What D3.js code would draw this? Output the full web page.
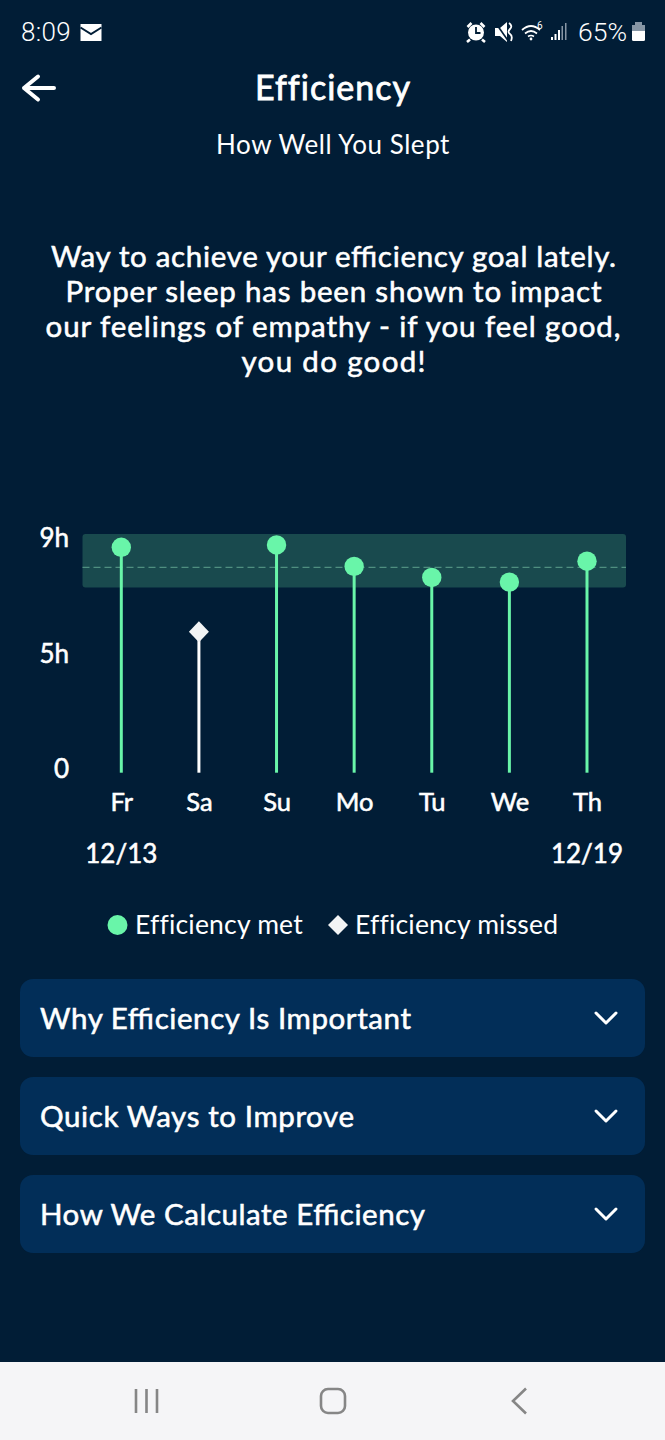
<!DOCTYPE html>
<html>
<head>
<meta charset="utf-8">
<script src="https://cdn.jsdelivr.net/npm/d3@7"></script>
<style>
html,body{margin:0;padding:0;background:#011d36;}
svg{display:block;}
text{font-family:Lato,"Open Sans",sans-serif;fill:#fff;}
.status{font-family:Roboto,sans-serif;}
/* no medium Lato installed, thicken the regular one a bit */
.medium{stroke:#fff;stroke-width:0.55px;}
</style>
</head>
<body>
<div id="chart"></div>
<script>
// chart data
var days = ["Fr","Sa","Su","Mo","Tu","We","Th"];
var hours = [8.68,5.77,8.76,8.02,7.64,7.48,8.2];
var goalMet = [true,false,true,true,true,true,true];
var yTicks = [0,5,9];
var yTickLabels = ["0","5h","9h"];
var goalBand = [7.29,9.14];
var goalLine = [7.99];
var dateLabels = ["12/13","12/19"];
var legendLabels = ["Efficiency met","Efficiency missed"];

var message = ["Way to achieve your efficiency goal lately.","Proper sleep has been shown to impact","our feelings of empathy - if you feel good,","you do good!"];
var messageWidths = [565,536,575,184];
var sections = ["Why Efficiency Is Important","Quick Ways to Improve","How We Calculate Efficiency"];
var sectionWidths = [371,314,385];

var W = 665, H = 1440;
var green = "#69f5a9", bg = "#011d36", card = "#022e58", white = "#fff", grey = "#8796a5";

var svg = d3.select("#chart").append("svg").attr("width",W).attr("height",H);
svg.append("rect").attr("width",W).attr("height",H).attr("fill",bg);

// ---- status bar
var bar = svg.append("g");
bar.append("text").attr("class","status").attr("x",21).attr("y",41).attr("font-size",26).attr("font-weight",300).attr("letter-spacing",0.3).text("8:09");
bar.append("path").attr("d","M80.500 24h21v17h-21z").attr("fill",white);
bar.append("path").attr("d","M80.500 27.500l10.500 6.500 10.500-6.500").attr("fill","none").attr("stroke",bg).attr("stroke-width",2);
// alarm
bar.append("circle").attr("cx",476).attr("cy",32.500).attr("r",8).attr("fill",white);
bar.append("path").attr("d","M476 27v6h4.500").attr("fill","none").attr("stroke",bg).attr("stroke-width",1.8);
bar.append("path").attr("d","M467.500 27l4-4M484.500 27l-4-4M470 39.500l-3 2.500M482 39.500l3 2.500").attr("stroke",white).attr("stroke-width",2.6);
// mute
bar.append("path").attr("d","M495 28h5l7-6v20l-7-6h-5z").attr("fill",white);
bar.append("path").attr("d","M495 22l14 20").attr("stroke",bg).attr("stroke-width",1.6);
bar.append("path").attr("d","M509 23q4 3 1 6t0 5 1 7").attr("fill","none").attr("stroke",white).attr("stroke-width",1.8);
// wifi
bar.append("path").attr("d","M522 30q9-8 18 0M525 33.500q6-5 12 0M528 36.500q3-2 6 0").attr("fill","none").attr("stroke",white).attr("stroke-width",1.7);
bar.append("circle").attr("cx",531).attr("cy",39).attr("r",1.4).attr("fill",white);
bar.append("text").attr("class","status").attr("x",537).attr("y",29).attr("font-size",10).text("6");
// signal
[[551,37,2,white],[554.500,34,2,white],[558,30,2,white],[561.500,26,1.5,grey],[565,23,1.5,grey]].forEach(function(b){
	bar.append("rect").attr("x",b[0]).attr("y",b[1]).attr("width",b[2]).attr("height",40-b[1]).attr("fill",b[3]);
});
bar.append("text").attr("class","status").attr("x",578).attr("y",41).attr("font-size",26.500).attr("font-weight",300).text("65%");
bar.append("rect").attr("x",632).attr("y",25).attr("width",13).attr("height",16).attr("rx",1.5).attr("fill",white);
bar.append("rect").attr("x",632).attr("y",25).attr("width",13).attr("height",6).attr("fill",grey);
bar.append("rect").attr("x",635).attr("y",22).attr("width",7).attr("height",3).attr("fill",grey);

// ---- header
svg.append("path").attr("d","M54 88H24M38 76.500L24 88l14 11.500").attr("fill","none").attr("stroke",white).attr("stroke-width",4).attr("stroke-linecap","round").attr("stroke-linejoin","round");
svg.append("text").attr("class","medium").attr("x",333).attr("y",100).attr("text-anchor","middle").attr("font-size",34).attr("letter-spacing",1).style("stroke-width","0.8px").text("Efficiency");
svg.append("text").attr("x",333).attr("y",154).attr("text-anchor","middle").attr("font-size",26).attr("letter-spacing",0.55).text("How Well You Slept");

svg.selectAll(".msg").data(message).enter().append("text").attr("class","msg medium")
	.attr("x",function(d,i){ return 333-messageWidths[i]/2+(i==2?0:0.500); }).attr("y",function(d,i){ return 267+i*35; })
	.attr("textLength",function(d,i){ return messageWidths[i]; }).attr("lengthAdjust","spacing")
	.attr("font-size",29.500).text(function(d){ return d; });

// ---- chart
var x = d3.scalePoint().domain(days).range([121.3,587]);
var y = d3.scaleLinear().domain(yTicks).range([769,654,538]);
var stemBase = y(0)+3.7;

var chart = svg.append("g");
chart.append("rect").attr("x",82.500).attr("width",543.500).attr("rx",3)
	.attr("y",y(goalBand[1])).attr("height",y(goalBand[0])-y(goalBand[1])).attr("fill","#194a4e");
chart.selectAll(".goal").data(goalLine).enter().append("line").attr("class","goal")
	.attr("x1",82.500).attr("x2",626).attr("y1",y).attr("y2",y)
	.attr("stroke","#4f8f80").attr("stroke-width",1.2).attr("stroke-dasharray","7 4");

var yAxis = d3.axisLeft(y).tickValues(yTicks).tickSize(0).tickPadding(0).tickFormat(function(d,i){ return yTickLabels[i]; });
var yG = chart.append("g").attr("transform","translate(69,0)").call(yAxis);
yG.select(".domain").remove();
yG.selectAll("text").attr("class","medium").attr("font-size",26).attr("fill",white);

var xAxis = d3.axisBottom(x).tickSize(0).tickPadding(0);
var xG = chart.append("g").attr("transform","translate(0,785)").call(xAxis);
xG.select(".domain").remove();
xG.selectAll("text").attr("class","medium").attr("font-size",25.500).attr("fill",white).attr("dy","1em");

var rows = days.map(function(d,i){ return {day:d,value:hours[i],met:goalMet[i]}; });
chart.selectAll(".stem").data(rows).enter().append("line").attr("class","stem")
	.attr("x1",function(d){ return x(d.day); }).attr("x2",function(d){ return x(d.day); })
	.attr("y1",function(d){ return y(d.value); }).attr("y2",stemBase)
	.attr("stroke",function(d){ return d.met ? green : white; }).attr("stroke-width",3);
chart.selectAll(".met").data(rows.filter(function(d){ return d.met; })).enter().append("circle").attr("class","met")
	.attr("cx",function(d){ return x(d.day); }).attr("cy",function(d){ return y(d.value); }).attr("r",9.700).attr("fill",green);
chart.selectAll(".miss").data(rows.filter(function(d){ return !d.met; })).enter().append("path").attr("class","miss")
	.attr("transform",function(d){ return "translate("+x(d.day)+","+y(d.value)+")"; })
	.attr("d","M0-10.500L10 0 0 10.500-10 0Z").attr("fill","#f2f4f5");

chart.selectAll(".date").data(dateLabels).enter().append("text").attr("class","date medium")
	.attr("x",function(d,i){ return x(days[i*(days.length-1)]); }).attr("y",863)
	.attr("text-anchor","middle").attr("font-size",26).text(function(d){ return d; });

// ---- legend
var legend = svg.append("g");
legend.append("circle").attr("cx",117.500).attr("cy",925).attr("r",10).attr("fill",green);
legend.append("text").attr("x",135).attr("y",934).attr("font-size",26.500).attr("letter-spacing",0.2).text(legendLabels[0]);
legend.append("path").attr("transform","translate(338,925)").attr("d","M0-10L10 0 0 10-10 0Z").attr("fill","#f2f4f5");
legend.append("text").attr("x",355).attr("y",934).attr("font-size",26.500).attr("letter-spacing",0.2).text(legendLabels[1]);

// ---- expandable cards
var cards = svg.selectAll(".card").data(sections).enter().append("g").attr("class","card")
	.attr("transform",function(d,i){ return "translate(20,"+(979+i*98)+")"; });
cards.append("rect").attr("width",625).attr("height",78).attr("rx",13).attr("fill",card);
cards.append("text").attr("class","medium").attr("x",20).attr("y",49.500).attr("font-size",29.500)
	.attr("textLength",function(d,i){ return sectionWidths[i]; }).attr("lengthAdjust","spacing").text(function(d){ return d; });
cards.append("path").attr("d","M576 34l10 10 10-10").attr("fill","none").attr("stroke",white).attr("stroke-width",3).attr("stroke-linecap","round").attr("stroke-linejoin","round");

// ---- nav bar
var nav = svg.append("g");
nav.append("rect").attr("y",1362).attr("width",W).attr("height",78).attr("fill","#f5f5f7");
nav.append("path").attr("d","M136 1389v24M146.500 1389v24M157 1389v24").attr("stroke","#868686").attr("stroke-width",2.6);
nav.append("rect").attr("x",321).attr("y",1389).attr("width",24).attr("height",24).attr("rx",7).attr("fill","none").attr("stroke","#868686").attr("stroke-width",2.6);
nav.append("path").attr("d","M526 1388.500L513 1401l13 12.500").attr("fill","none").attr("stroke","#868686").attr("stroke-width",2.6);
</script>
</body>
</html>
